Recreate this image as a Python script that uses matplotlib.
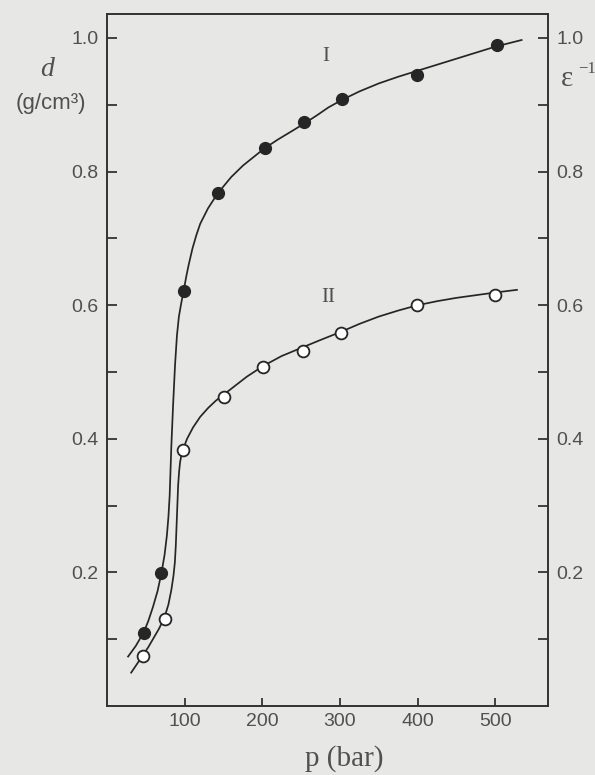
import matplotlib
matplotlib.use("Agg")
import matplotlib.pyplot as plt

# puntos medidos, serie I (circulos llenos)
p_I = [47, 70, 99, 143, 203, 254, 302, 399, 502]
d_I = [0.110, 0.199, 0.622, 0.768, 0.835, 0.874, 0.909, 0.945, 0.989]

# puntos medidos, serie II (circulos vacios)
p_II = [46, 74, 98, 150, 201, 252, 301, 399, 500]
d_II = [0.075, 0.131, 0.384, 0.463, 0.508, 0.532, 0.558, 0.600, 0.616]

# curvas de ajuste trazadas a mano
curva_I_p = [27, 37, 47, 53, 59, 65, 70, 74, 77, 79, 80.6, 82.8, 85, 87.5,
             90, 92.5, 95.5, 98.7, 102, 105, 110, 115, 120, 130, 140, 150,
             160, 175, 190, 203, 220, 240, 254, 270, 285, 302, 325, 350, 375,
             400, 425, 450, 475, 500, 534]
curva_I_d = [0.074, 0.090, 0.110, 0.127, 0.148, 0.172, 0.199, 0.226, 0.255,
             0.283, 0.315, 0.390, 0.450, 0.510, 0.555, 0.583, 0.603, 0.622,
             0.643, 0.660, 0.685, 0.705, 0.722, 0.745, 0.763, 0.778, 0.792,
             0.809, 0.823, 0.835, 0.848, 0.862, 0.872, 0.884, 0.896, 0.907,
             0.920, 0.932, 0.942, 0.951, 0.960, 0.969, 0.978, 0.987, 0.997]

curva_II_p = [31, 38, 46, 53, 60, 67, 74, 79, 82.8, 85.5, 87.3, 88.5, 89.5,
              90.5, 91.5, 92.7, 94, 95.8, 97.8, 103, 110.7, 120, 130, 140,
              150, 160, 180, 201, 225, 252, 275, 301, 325, 350, 375, 400, 425,
              450, 475, 500, 528]
curva_II_d = [0.050, 0.062, 0.076, 0.088, 0.102, 0.116, 0.133, 0.152, 0.174,
              0.195, 0.215, 0.240, 0.270, 0.300, 0.330, 0.350, 0.365, 0.376,
              0.384, 0.400, 0.417, 0.433, 0.446, 0.457, 0.466, 0.475, 0.493,
              0.509, 0.524, 0.537, 0.548, 0.560, 0.572, 0.583, 0.592, 0.600,
              0.606, 0.611, 0.615, 0.619, 0.623]

# ticks del eje
xticks = [100, 200, 300, 400, 500]
yticks = [0.1, 0.2, 0.3, 0.4, 0.5, 0.6, 0.7, 0.8, 0.9, 1.0]
ylabels = ['', '0.2', '', '0.4', '', '0.6', '', '0.8', '', '1.0']

fondo = '#e7e7e5'
tinta = '#262626'
gris = '#505050'

fig = plt.figure(figsize=(5.95, 7.75), dpi=100, facecolor=fondo)
ax = fig.add_axes([0.180, 0.089, 0.741, 0.893], facecolor=fondo)

# curvas
ax.plot(curva_I_p, curva_I_d, color=tinta, lw=1.25, zorder=2)
ax.plot(curva_II_p, curva_II_d, color=tinta, lw=1.25, zorder=2)
# puntos
ax.plot(p_I, d_I, 'o', ms=8.5, color=tinta, zorder=3)
ax.plot(p_II, d_II, 'o', ms=8.5, mfc='white', mec=tinta, mew=1.3, zorder=3)

ax.text(282, 0.972, 'I', family='Liberation Serif', fontsize=15,
        color=gris, ha='center', va='center')
ax.text(285, 0.611, 'II', family='Liberation Serif', fontsize=15,
        color=gris, ha='center', va='center')

ax.set_xlim(0, 568)
ax.set_ylim(0, 1.036)
ax.set_xticks(xticks)
ax.set_yticks(yticks)
ax.set_yticklabels(ylabels)

for s in ax.spines.values():
    s.set_linewidth(1.4)
    s.set_color('#333333')

ax.tick_params(axis='x', direction='in', length=6, width=1.3, pad=5,
               labelsize=14, labelcolor=gris, color='#333333')
ax.tick_params(axis='y', direction='in', length=7, width=1.3, pad=6,
               labelsize=14, labelcolor=gris, color='#333333',
               left=True, right=True, labelleft=True, labelright=True)
for lbl in ax.get_xticklabels() + ax.get_yticklabels():
    lbl.set_family('Liberation Sans')

# rotulos de los ejes
fig.text(47 / 595, 1 - 70 / 775, 'd', family='Liberation Serif', style='italic',
         fontsize=20, color=gris, ha='center', va='center')
fig.text(51 / 595, 1 - 104 / 775, '(g/cm³)', family='Liberation Sans',
         fontsize=16, color=gris, ha='center', va='center')
fig.text(567 / 595, 1 - 79 / 775, 'ε', family='Liberation Serif',
         fontsize=21, color=gris, ha='center', va='center')
fig.text(578 / 595, 1 - 69 / 775, '−1', family='Liberation Serif',
         fontsize=12, color=gris, ha='left', va='center')
fig.text(344 / 595, 1 - 766 / 775, 'p (bar)', family='Liberation Serif',
         fontsize=21, color=gris, ha='center', va='baseline')

fig.savefig('out.png', dpi=100, facecolor=fondo)
